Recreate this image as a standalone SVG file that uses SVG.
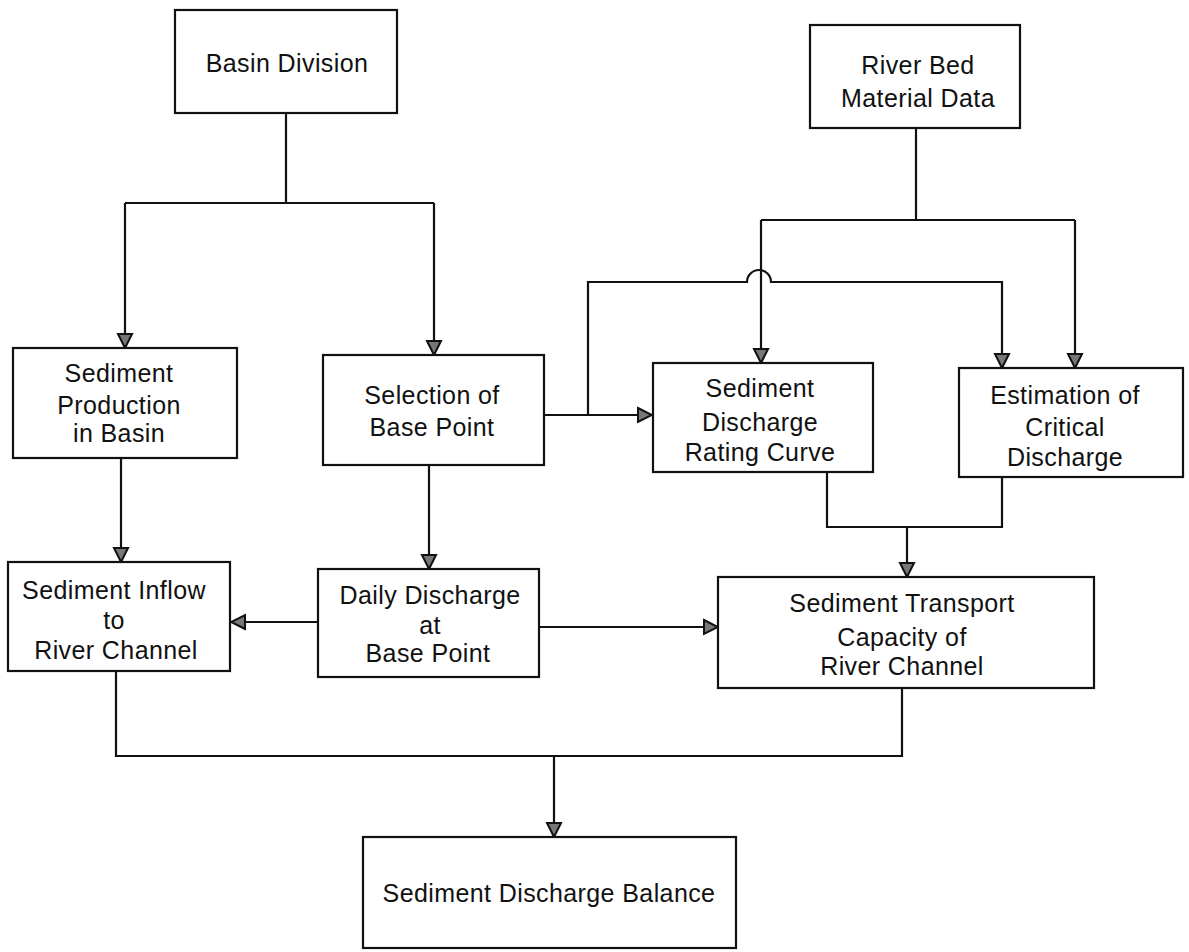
<svg xmlns="http://www.w3.org/2000/svg" width="1189" height="952" viewBox="0 0 1189 952">
<style>
.box{fill:#fff;stroke:#111;stroke-width:2.2}
.t{font-family:"Liberation Sans",Arial,sans-serif;font-size:25px;fill:#111;text-anchor:middle;letter-spacing:0.4px}
.c{fill:none;stroke:#111;stroke-width:2.2}
</style>
<defs>
<marker id="ah" markerUnits="userSpaceOnUse" markerWidth="18" markerHeight="18" viewBox="0 0 18 18" refX="16" refY="9" orient="auto">
<path d="M2,2 L16,9 L2,16 Z" fill="#777" stroke="#111" stroke-width="2"/>
</marker>
</defs>
<rect width="1189" height="952" fill="#fff"/>
<g id="connectors">
<path class="c" d="M286,113 V203 M125,203 H434"/>
<path class="c" d="M125,203 V348" marker-end="url(#ah)"/>
<path class="c" d="M434,203 V355" marker-end="url(#ah)"/>
<path class="c" d="M916,128 V220 M761,220 H1075"/>
<path class="c" d="M761,220 V363" marker-end="url(#ah)"/>
<path class="c" d="M1075,220 V368" marker-end="url(#ah)"/>
<path class="c" d="M588,415 V282 H747 A12,12 0 0 1 771,282 H1002 V368" marker-end="url(#ah)"/>
<path class="c" d="M544,415 H652" marker-end="url(#ah)"/>
<path class="c" d="M121,458 V562" marker-end="url(#ah)"/>
<path class="c" d="M429,465 V569" marker-end="url(#ah)"/>
<path class="c" d="M827,472 V527 H1002 V477"/>
<path class="c" d="M907,527 V577" marker-end="url(#ah)"/>
<path class="c" d="M318,622 H231" marker-end="url(#ah)"/>
<path class="c" d="M539,627 H718" marker-end="url(#ah)"/>
<path class="c" d="M116,671 V756 H902 V688"/>
<path class="c" d="M554,756 V837" marker-end="url(#ah)"/>
</g>
<g id="basin-division">
<rect class="box" x="175" y="10" width="222" height="103"/>
<text class="t" x="287" y="72">Basin Division</text>
</g>
<g id="river-bed-material-data">
<rect class="box" x="810" y="25" width="210" height="103"/>
<text class="t" x="918" y="74">River Bed</text>
<text class="t" x="918" y="107">Material Data</text>
</g>
<g id="sediment-production">
<rect class="box" x="13" y="348" width="224" height="110"/>
<text class="t" x="119" y="382">Sediment</text>
<text class="t" x="119" y="414">Production</text>
<text class="t" x="119" y="442">in Basin</text>
</g>
<g id="selection-base-point">
<rect class="box" x="323" y="355" width="221" height="110"/>
<text class="t" x="432" y="404">Selection of</text>
<text class="t" x="432" y="436">Base Point</text>
</g>
<g id="sediment-discharge-rating-curve">
<rect class="box" x="653" y="363" width="220" height="109"/>
<text class="t" x="760" y="397">Sediment</text>
<text class="t" x="760" y="431">Discharge</text>
<text class="t" x="760" y="461">Rating Curve</text>
</g>
<g id="estimation-critical-discharge">
<rect class="box" x="959" y="368" width="224" height="109"/>
<text class="t" x="1065" y="404">Estimation of</text>
<text class="t" x="1065" y="436">Critical</text>
<text class="t" x="1065" y="466">Discharge</text>
</g>
<g id="sediment-inflow">
<rect class="box" x="8" y="562" width="222" height="109"/>
<text class="t" x="114" y="599">Sediment Inflow</text>
<text class="t" x="114" y="629">to</text>
<text class="t" x="116" y="659">River Channel</text>
</g>
<g id="daily-discharge">
<rect class="box" x="318" y="569" width="221" height="108"/>
<text class="t" x="430" y="604">Daily Discharge</text>
<text class="t" x="430" y="634">at</text>
<text class="t" x="428" y="662">Base Point</text>
</g>
<g id="sediment-transport-capacity">
<rect class="box" x="718" y="577" width="376" height="111"/>
<text class="t" x="902" y="612">Sediment Transport</text>
<text class="t" x="902" y="646">Capacity of</text>
<text class="t" x="902" y="675">River Channel</text>
</g>
<g id="sediment-discharge-balance">
<rect class="box" x="363" y="837" width="373" height="111"/>
<text class="t" x="549" y="902">Sediment Discharge Balance</text>
</g>
</svg>
